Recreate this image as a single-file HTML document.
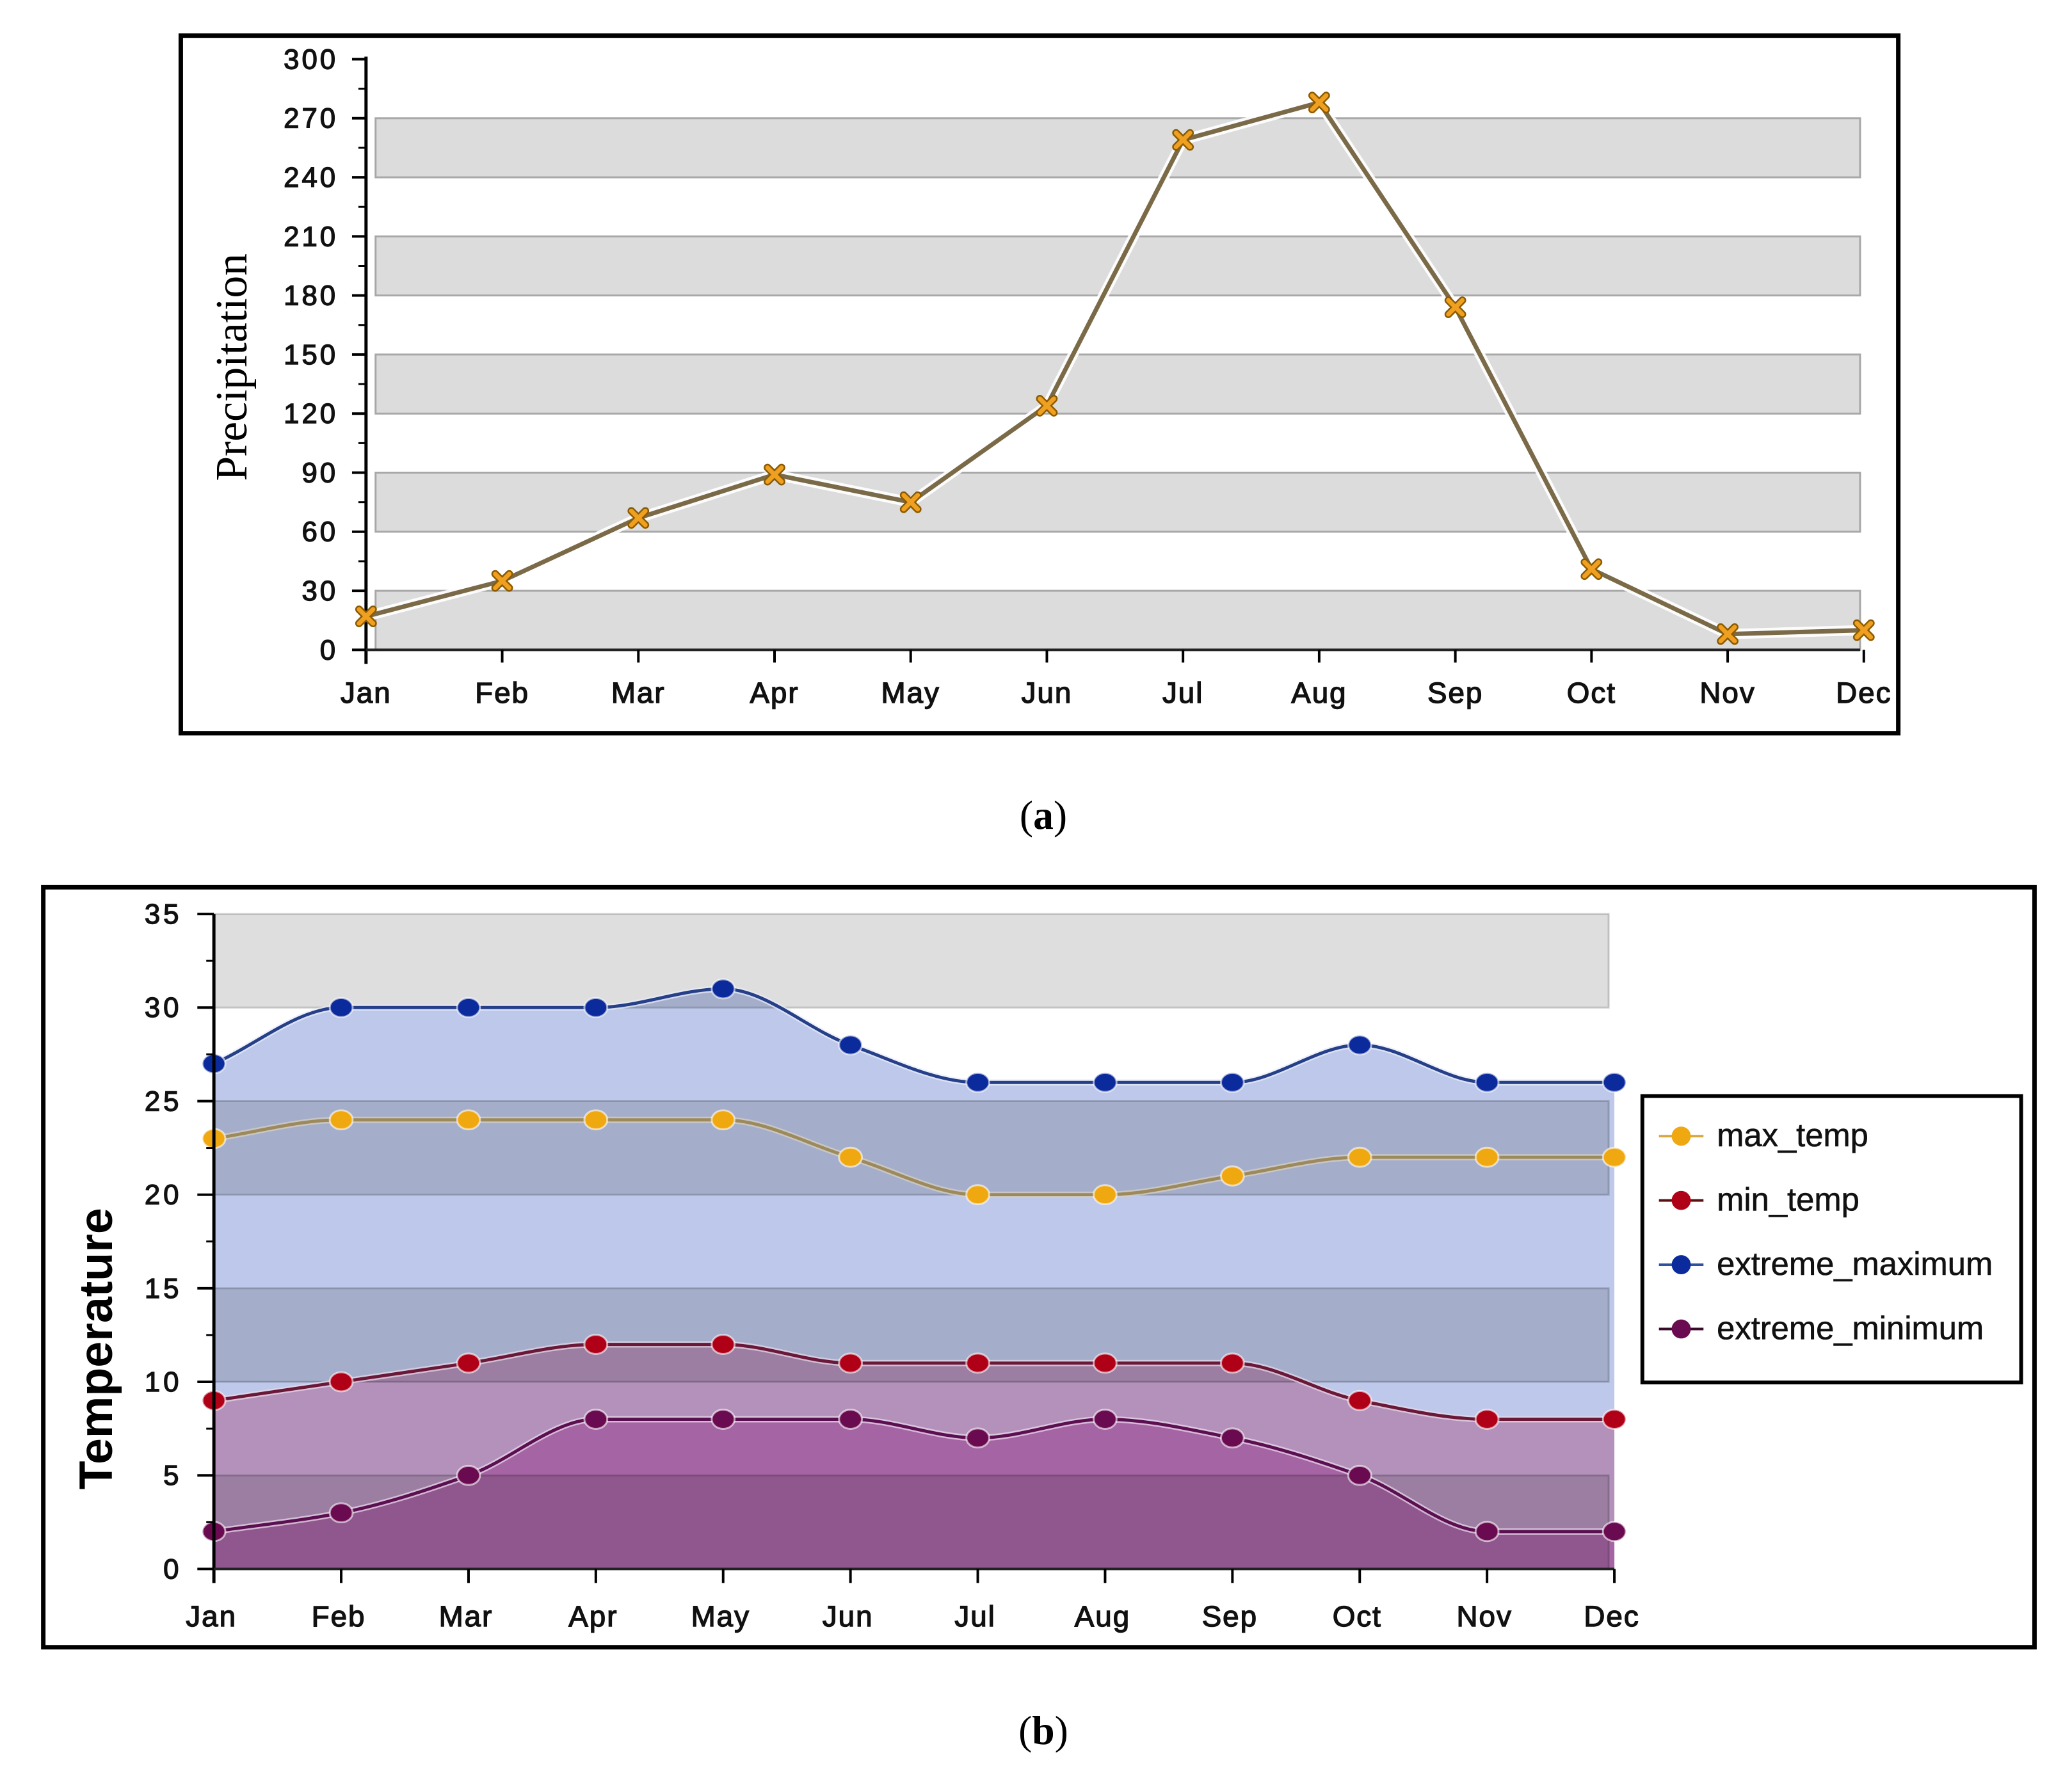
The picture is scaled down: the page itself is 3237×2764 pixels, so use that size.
<!DOCTYPE html>
<html><head><meta charset="utf-8"><style>
html,body{margin:0;padding:0;background:#fff;}
svg{display:block;}
text{font-family:"Liberation Sans",sans-serif;}
</style></head><body>
<svg id="s" width="3237" height="2764" viewBox="0 0 3237 2764" xmlns="http://www.w3.org/2000/svg">
<g transform="scale(0.9945)">
<rect x="284" y="56" width="2698" height="1096" fill="#fff" stroke="#000" stroke-width="7"/>
<rect x="68" y="1394" width="3128" height="1194" fill="#fff" stroke="#000" stroke-width="7"/>
<g id="ga"></g>
<g id="gb"></g>
<text x="1639" y="1302" font-size="64" text-anchor="middle" style="font-family:'Liberation Serif',serif">(<tspan font-weight="bold">a</tspan>)</text>
<text x="1639" y="2740" font-size="64" text-anchor="middle" style="font-family:'Liberation Serif',serif">(<tspan font-weight="bold">b</tspan>)</text>
</g>
</svg>
<script>
const months = ["Jan","Feb","Mar","Apr","May","Jun","Jul","Aug","Sep","Oct","Nov","Dec"];
const precipitation = [17,35,67,89,75,124,259,278,174,41,8,10];
const precipTicks = [0,30,60,90,120,150,180,210,240,270,300];
const tempTicks = [0,5,10,15,20,25,30,35];
const extremeMaximum = [27,30,30,30,31,28,26,26,26,28,26,26];
const maxTemp = [23,24,24,24,24,22,20,20,21,22,22,22];
const minTemp = [9,10,11,12,12,11,11,11,11,9,8,8];
const extremeMinimum = [2,3,5,8,8,8,7,8,7,5,2,2];

const NS="http://www.w3.org/2000/svg";
function mk(p,tag,attrs){const e=document.createElementNS(NS,tag);for(const k in attrs)e.setAttribute(k,attrs[k]);p.appendChild(e);return e;}

// ---------- Chart A ----------
const ga=document.getElementById('ga');
const axA={x0:575,dx:213.9,y0:1021,ky:(1021-93)/300};
const xa=i=>axA.x0+i*axA.dx;
const ya=v=>axA.y0-v*axA.ky;
for(let b=0;b<300;b+=60){
  const r=mk(ga,'rect',{x:590,y:ya(b+30),width:2922-590,height:ya(b)-ya(b+30),fill:'#dcdcdc',stroke:'#a8a8a8','stroke-width':3});
  
  
}
mk(ga,'line',{x1:axA.x0,y1:ya(300)-4,x2:axA.x0,y2:ya(0)+22,stroke:'#000','stroke-width':5});
mk(ga,'line',{x1:axA.x0,y1:ya(0),x2:2922,y2:ya(0),stroke:'#222','stroke-width':4});
precipTicks.forEach(v=>{
  mk(ga,'line',{x1:axA.x0-22,y1:ya(v),x2:axA.x0,y2:ya(v),stroke:'#000','stroke-width':4});
  if(v<300) mk(ga,'line',{x1:axA.x0-12,y1:ya(v+15),x2:axA.x0,y2:ya(v+15),stroke:'#000','stroke-width':3});
  const t=mk(ga,'text',{x:531,y:ya(v)+15,'font-size':44,'letter-spacing':4,'text-anchor':'end',fill:'#111',stroke:'#111','stroke-width':1.4});
  t.textContent=v;
  
  
});
months.forEach((m,i)=>{
  if(i>0) mk(ga,'line',{x1:xa(i),y1:ya(0),x2:xa(i),y2:ya(0)+20,stroke:'#000','stroke-width':4});
  const t=mk(ga,'text',{x:xa(i),y:1104,'font-size':46,'letter-spacing':2,'text-anchor':'middle',fill:'#111',stroke:'#111','stroke-width':1.4});
  t.textContent=m;
  
  
});
const ttl=mk(ga,'text',{x:0,y:0,'font-size':70,'text-anchor':'middle',transform:'translate(387,577) rotate(-90)',style:"font-family:'Liberation Serif',serif"});
ttl.textContent='Precipitation';


const pts=precipitation.map((v,i)=>xa(i)+','+ya(v)).join(' ');
mk(ga,'polyline',{points:pts,fill:'none',stroke:'#fff','stroke-width':16,'stroke-linejoin':'round',opacity:0.9});
const pl=mk(ga,'polyline',{points:pts,fill:'none',stroke:'#7b6a48','stroke-width':7,'stroke-linejoin':'round'});


precipitation.forEach((v,i)=>{
  const x=xa(i),y=ya(v),s=11;
  const g=mk(ga,'g',{});
  
  
  const d=`M${x-s},${y-s}L${x+s},${y+s}M${x+s},${y-s}L${x-s},${y+s}`;
  mk(g,'path',{d:d,stroke:'#8a5a00','stroke-width':12,'stroke-linecap':'round'});
  mk(g,'path',{d:d,stroke:'#f0a020','stroke-width':7,'stroke-linecap':'round'});
});

// ---------- Chart B ----------
const gb=document.getElementById('gb');
const axB={x0:336,dx:200,y0:2465,ky:(2465-1436)/35};
const xb=i=>axB.x0+i*axB.dx;
const yb=v=>axB.y0-v*axB.ky;
function smooth(vals){
  const n=vals.length,xs=vals.map((v,i)=>xb(i)),ys=vals.map(yb);
  const d=[],m=[];
  for(let i=0;i<n-1;i++)d.push((ys[i+1]-ys[i])/(xs[i+1]-xs[i]));
  m[0]=d[0];m[n-1]=d[n-2];
  for(let i=1;i<n-1;i++)m[i]=(d[i-1]*d[i]<=0)?0:2/(1/d[i-1]+1/d[i]);
  let p=`M${xs[0]},${ys[0]}`;
  for(let i=0;i<n-1;i++){const h=(xs[i+1]-xs[i])/3;
    p+=`C${xs[i]+h},${ys[i]+m[i]*h} ${xs[i+1]-h},${ys[i+1]-m[i+1]*h} ${xs[i+1]},${ys[i+1]}`;}
  return p;
}
const xEnd=xb(11);
function area(vals,fill,name){
  const a=mk(gb,'path',{d:smooth(vals)+`L${xEnd},${yb(0)}L${xb(0)},${yb(0)}Z`,fill:fill});
  
  
}
area(extremeMaximum,'#bdc8ea','extreme-maximum-area');
area(minTemp,'#b391bb','min-temp-area');
area(extremeMinimum,'#a564a3','extreme-minimum-area');
for(let b=0;b<35;b+=10){
  const r=mk(gb,'rect',{x:axB.x0,y:yb(b+5),width:2527-axB.x0,height:yb(b)-yb(b+5),fill:'rgba(0,0,0,0.13)',stroke:'rgba(0,0,0,0.18)','stroke-width':3});
  
  
}
function line(vals,glow,col,mark,name){
  const p=smooth(vals);
  mk(gb,'path',{d:p,fill:'none',stroke:glow,'stroke-width':10,opacity:0.7});
  const l=mk(gb,'path',{d:p,fill:'none',stroke:col,'stroke-width':5});
  
  
  vals.forEach((v,i)=>{
    const c=mk(gb,'ellipse',{cx:xb(i),cy:yb(v),rx:18,ry:15,fill:mark,stroke:'rgba(255,255,255,0.6)','stroke-width':3});
    
    
  });
}
line(extremeMaximum,'#e8ecf8','#253f88','#0b2a9c','extreme-maximum');
line(maxTemp,'#d8d0c0','#9c8a5c','#f0a810','max-temp');
line(minTemp,'#e8d8e8','#6a1838','#b00018','min-temp');
line(extremeMinimum,'#eedcee','#5a1050','#6a0a50','extreme-minimum');
mk(gb,'line',{x1:axB.x0,y1:yb(35),x2:axB.x0,y2:yb(0)+22,stroke:'#000','stroke-width':5});
mk(gb,'line',{x1:axB.x0,y1:yb(0),x2:xEnd,y2:yb(0),stroke:'#222','stroke-width':4});
tempTicks.forEach(v=>{
  mk(gb,'line',{x1:axB.x0-26,y1:yb(v),x2:axB.x0,y2:yb(v),stroke:'#000','stroke-width':4});
  if(v<35) mk(gb,'line',{x1:axB.x0-12,y1:yb(v+2.5),x2:axB.x0,y2:yb(v+2.5),stroke:'#000','stroke-width':3});
  const t=mk(gb,'text',{x:286,y:yb(v)+15,'font-size':44,'letter-spacing':5,'text-anchor':'end',fill:'#111',stroke:'#111','stroke-width':1.4});
  t.textContent=v;
  
  
});
months.forEach((m,i)=>{
  if(i>0) mk(gb,'line',{x1:xb(i),y1:yb(0),x2:xb(i),y2:yb(0)+22,stroke:'#000','stroke-width':4});
  const t=mk(gb,'text',{x:xb(i)-4,y:2555,'font-size':46,'letter-spacing':2,'text-anchor':'middle',fill:'#111',stroke:'#111','stroke-width':1.4});
  t.textContent=m;
  
  
});
const tt=mk(gb,'text',{x:0,y:0,'font-size':74,'font-weight':'bold','text-anchor':'middle',transform:'translate(176,2119) rotate(-90)'});
tt.textContent='Temperature';


// legend
const lg=mk(gb,'g',{});


mk(lg,'rect',{x:2580,y:1722,width:595,height:450,fill:'#fff',stroke:'#000','stroke-width':6});
const legendNames=["max_temp","min_temp","extreme_maximum","extreme_minimum"];
const legendCols=[["#d8a840","#f0a810"],["#5a1010","#b00018"],["#3050a0","#0b2a9c"],["#3a0a2a","#6a0a50"]];
legendNames.forEach((n,i)=>{
  const y=1785+i*101;
  const e=mk(lg,'g',{});
  
  
  mk(e,'line',{x1:2606,y1:y,x2:2676,y2:y,stroke:legendCols[i][0],'stroke-width':4});
  mk(e,'circle',{cx:2641,cy:y,r:15,fill:legendCols[i][1]});
  const t=mk(e,'text',{x:2697,y:y+16,'font-size':51,fill:'#111',stroke:'#111','stroke-width':0.6});
  t.textContent=n;
});
</script>
</body></html>
